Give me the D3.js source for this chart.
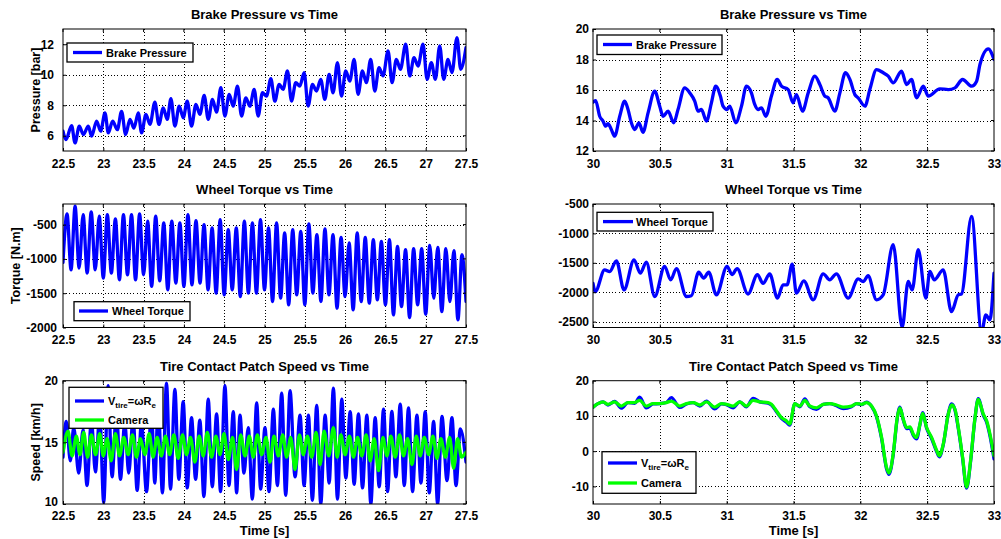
<!DOCTYPE html>
<html>
<head>
<meta charset="utf-8">
<script src="https://cdn.jsdelivr.net/npm/d3@7"></script>
<style>
  body { margin: 0; background: #fff; }
  svg text { font-family: "Liberation Sans", Arial, Helvetica, sans-serif; font-weight: bold; fill: #000; }
</style>
</head>
<body>
<svg id="fig" width="1001" height="539"></svg>
<script>
// ---- Measured signals: [time (s), value] ----
const brakeEarly = [[22.500,6.30],[22.537,5.75],[22.607,6.67],[22.649,5.53],[22.702,6.63],[22.752,6.08],[22.814,6.63],[22.855,5.97],[22.917,6.96],[22.967,6.30],[23.021,7.50],[23.062,6.19],[23.116,6.96],[23.174,6.40],[23.227,7.60],[23.277,6.08],[23.331,7.07],[23.380,6.50],[23.434,7.50],[23.475,6.19],[23.529,7.40],[23.579,6.74],[23.640,8.20],[23.690,6.74],[23.744,7.83],[23.793,7.07],[23.839,8.43],[23.888,6.63],[23.942,7.94],[23.992,7.18],[24.041,8.27],[24.095,6.63],[24.149,8.05],[24.198,7.40],[24.252,8.64],[24.302,7.07],[24.355,8.38],[24.405,7.55],[24.459,9.15],[24.508,7.29],[24.562,8.71],[24.612,7.94],[24.665,9.26],[24.715,7.29],[24.769,8.49],[24.818,7.94],[24.872,9.04],[24.921,7.29],[24.975,8.82],[25.025,8.60],[25.079,9.74],[25.128,8.27],[25.182,9.37],[25.231,9.04],[25.285,10.25],[25.335,8.27],[25.388,9.48],[25.438,9.26],[25.492,10.14],[25.541,7.94],[25.595,9.37],[25.645,8.93],[25.698,9.70],[25.748,8.38],[25.802,10.03],[25.851,8.82],[25.905,10.80],[25.955,8.60],[26.008,10.25],[26.058,9.59],[26.112,11.01],[26.161,8.71],[26.215,10.25],[26.264,9.48],[26.318,11.01],[26.368,8.93],[26.421,10.46],[26.471,9.92],[26.533,11.56],[26.583,9.48],[26.636,11.01],[26.686,10.36],[26.752,12.00],[26.802,9.92],[26.855,11.12],[26.905,10.57],[26.967,12.00],[27.017,9.70],[27.070,10.80],[27.120,9.70],[27.174,11.90],[27.223,9.70],[27.277,11.01],[27.326,10.14],[27.388,12.44],[27.434,10.36],[27.500,11.78]];

const torqueEarly = [[22.50,-1050],[22.55,-344],[22.60,-1158],[22.65,-232],[22.70,-1134],[22.75,-354],[22.80,-1207],[22.85,-314],[22.90,-1158],[22.95,-378],[23.00,-1280],[23.05,-354],[23.10,-1207],[23.15,-417],[23.20,-1305],[23.25,-354],[23.30,-1232],[23.35,-354],[23.40,-1305],[23.45,-344],[23.50,-1232],[23.55,-451],[23.60,-1402],[23.65,-378],[23.70,-1319],[23.75,-476],[23.80,-1451],[23.85,-451],[23.90,-1353],[23.95,-476],[24.00,-1402],[24.05,-354],[24.10,-1378],[24.15,-441],[24.20,-1353],[24.25,-500],[24.30,-1451],[24.35,-549],[24.40,-1500],[24.45,-427],[24.50,-1524],[24.55,-573],[24.60,-1451],[24.65,-549],[24.70,-1549],[24.75,-451],[24.80,-1500],[24.85,-476],[24.90,-1500],[24.95,-427],[25.00,-1451],[25.05,-549],[25.10,-1622],[25.15,-476],[25.20,-1573],[25.25,-622],[25.30,-1670],[25.35,-573],[25.40,-1524],[25.45,-598],[25.50,-1670],[25.55,-490],[25.60,-1500],[25.65,-646],[25.70,-1622],[25.75,-563],[25.80,-1524],[25.85,-646],[25.90,-1719],[25.95,-685],[26.00,-1549],[26.05,-768],[26.10,-1744],[26.15,-622],[26.20,-1622],[26.25,-685],[26.30,-1646],[26.35,-719],[26.40,-1597],[26.45,-744],[26.50,-1670],[26.55,-719],[26.60,-1817],[26.65,-817],[26.70,-1695],[26.75,-866],[26.80,-1856],[26.85,-851],[26.90,-1670],[26.95,-851],[27.00,-1807],[27.05,-802],[27.10,-1573],[27.15,-832],[27.20,-1768],[27.25,-851],[27.30,-1622],[27.35,-880],[27.40,-1890],[27.45,-939],[27.50,-1620]];

const vtireEarly = [[22.500,13.8],[22.541,16.7],[22.591,13.5],[22.633,16.2],[22.695,12.5],[22.749,16.0],[22.798,11.5],[22.852,16.8],[22.902,12.6],[22.956,17.3],[23.005,10.1],[23.059,19.6],[23.109,12.2],[23.163,17.6],[23.213,12.0],[23.266,16.6],[23.316,12.5],[23.370,17.0],[23.420,11.1],[23.473,16.6],[23.536,11.0],[23.598,17.5],[23.639,11.7],[23.681,18.1],[23.734,10.9],[23.784,19.8],[23.834,11.2],[23.888,19.3],[23.937,12.0],[23.991,18.3],[24.041,11.3],[24.095,17.0],[24.145,12.0],[24.198,16.8],[24.248,10.6],[24.302,18.5],[24.352,11.4],[24.406,17.3],[24.455,11.0],[24.509,19.6],[24.559,11.5],[24.613,17.5],[24.654,10.9],[24.696,17.2],[24.745,12.5],[24.799,16.2],[24.849,10.4],[24.903,18.2],[24.952,11.2],[25.006,16.2],[25.056,11.0],[25.110,17.7],[25.160,11.5],[25.213,19.0],[25.263,10.7],[25.317,19.2],[25.379,12.2],[25.441,17.2],[25.491,11.5],[25.545,17.2],[25.594,10.3],[25.648,18.0],[25.698,10.0],[25.752,17.2],[25.802,11.7],[25.855,19.4],[25.905,10.4],[25.959,18.5],[26.009,12.1],[26.063,17.5],[26.112,11.6],[26.166,17.3],[26.216,11.3],[26.270,17.2],[26.319,10.0],[26.373,17.0],[26.423,11.4],[26.477,17.7],[26.527,11.0],[26.580,17.5],[26.630,12.2],[26.684,18.1],[26.734,11.5],[26.787,17.8],[26.837,11.0],[26.891,17.2],[26.941,11.7],[26.994,17.5],[27.044,10.9],[27.098,16.7],[27.148,10.0],[27.202,17.1],[27.264,11.9],[27.326,17.0],[27.376,11.5],[27.430,16.1],[27.500,13.4]];

const cameraEarly = [[22.500,14.2],[22.562,15.9],[22.612,13.9],[22.666,15.5],[22.710,14.0],[22.757,15.8],[22.805,13.8],[22.852,15.6],[22.904,14.0],[22.956,15.7],[23.000,13.9],[23.047,15.3],[23.098,13.5],[23.150,15.7],[23.202,13.9],[23.254,15.4],[23.308,14.0],[23.362,15.6],[23.412,13.8],[23.461,15.3],[23.515,14.0],[23.569,15.7],[23.618,13.8],[23.668,15.4],[23.720,13.9],[23.772,15.5],[23.823,14.0],[23.875,15.6],[23.929,13.7],[23.983,15.6],[24.032,14.0],[24.082,15.4],[24.136,13.4],[24.190,15.5],[24.240,13.9],[24.290,15.8],[24.343,13.8],[24.397,15.5],[24.447,14.0],[24.497,15.7],[24.550,13.6],[24.604,15.4],[24.654,12.8],[24.704,15.6],[24.758,13.9],[24.812,15.5],[24.861,13.8],[24.911,15.6],[24.965,14.0],[25.019,15.4],[25.068,13.4],[25.118,15.5],[25.172,13.9],[25.226,15.6],[25.275,13.8],[25.325,15.4],[25.379,12.8],[25.433,15.6],[25.482,14.0],[25.532,15.5],[25.586,13.8],[25.640,15.8],[25.690,13.2],[25.739,15.9],[25.797,13.9],[25.855,16.2],[25.901,13.8],[25.947,15.6],[26.000,14.0],[26.054,15.5],[26.104,13.8],[26.154,15.4],[26.207,13.9],[26.261,15.6],[26.311,13.5],[26.361,15.3],[26.415,12.7],[26.469,15.4],[26.518,13.9],[26.568,15.5],[26.622,13.8],[26.676,15.6],[26.725,13.9],[26.775,15.3],[26.829,13.2],[26.883,15.5],[26.932,13.9],[26.982,15.4],[27.036,14.0],[27.090,15.5],[27.140,13.7],[27.189,15.3],[27.243,13.8],[27.297,15.4],[27.346,12.9],[27.396,15.3],[27.444,13.8],[27.500,14.2]];

const brakeLate = [[30.000,15.20],[30.020,15.30],[30.050,14.28],[30.075,13.96],[30.095,13.63],[30.112,13.80],[30.137,13.41],[30.162,12.97],[30.200,14.28],[30.237,15.27],[30.262,14.72],[30.287,13.85],[30.312,13.41],[30.344,13.85],[30.374,13.23],[30.412,14.50],[30.462,15.92],[30.499,14.94],[30.524,14.28],[30.562,14.61],[30.604,13.85],[30.636,14.72],[30.686,16.14],[30.724,15.81],[30.761,15.27],[30.786,14.61],[30.811,14.72],[30.849,13.96],[30.886,15.16],[30.918,16.25],[30.953,15.60],[30.973,14.94],[31.003,14.72],[31.023,14.94],[31.068,13.85],[31.111,14.94],[31.148,16.25],[31.185,15.81],[31.210,15.05],[31.235,14.72],[31.260,14.83],[31.293,14.28],[31.335,15.60],[31.378,16.69],[31.410,16.25],[31.460,16.03],[31.497,15.16],[31.522,15.70],[31.567,14.61],[31.610,15.81],[31.660,16.91],[31.697,16.36],[31.734,15.60],[31.759,15.49],[31.809,14.61],[31.847,15.81],[31.889,17.13],[31.922,16.69],[31.959,15.70],[31.984,15.49],[32.034,14.94],[32.071,16.03],[32.121,17.34],[32.171,17.13],[32.209,16.91],[32.246,16.47],[32.308,17.23],[32.346,16.36],[32.383,16.69],[32.421,15.49],[32.471,16.25],[32.508,15.60],[32.595,16.08],[32.658,16.03],[32.708,16.14],[32.765,16.69],[32.833,16.25],[32.870,16.58],[32.895,17.67],[32.957,18.70],[33.000,18.00]];

const torqueLate = [[30.000,-1850],[30.017,-1990],[30.087,-1620],[30.125,-1650],[30.175,-1466],[30.232,-1960],[30.307,-1450],[30.354,-1676],[30.399,-1488],[30.462,-2073],[30.536,-1560],[30.581,-1790],[30.624,-1600],[30.699,-2073],[30.736,-2060],[30.791,-1660],[30.828,-1760],[30.866,-1660],[30.923,-2045],[31.003,-1560],[31.040,-1700],[31.078,-1600],[31.160,-2030],[31.230,-1700],[31.272,-1850],[31.322,-1690],[31.380,-2100],[31.422,-1875],[31.452,-1875],[31.490,-1522],[31.522,-2017],[31.577,-1806],[31.647,-2130],[31.722,-1687],[31.771,-1790],[31.821,-1687],[31.909,-2100],[31.984,-1772],[32.021,-1820],[32.058,-1720],[32.121,-2130],[32.171,-2045],[32.246,-1193],[32.313,-2600],[32.358,-1818],[32.388,-1960],[32.433,-1278],[32.490,-2100],[32.520,-1647],[32.553,-1790],[32.620,-1620],[32.682,-2330],[32.732,-2045],[32.757,-2030],[32.832,-710],[32.907,-2680],[32.939,-2385],[32.969,-2470],[33.000,-1676]];

const vtireLate = [[30.000,12.5],[30.037,13.5],[30.075,14.0],[30.112,13.1],[30.162,14.1],[30.212,12.2],[30.262,13.8],[30.312,13.6],[30.349,15.3],[30.399,12.3],[30.449,13.4],[30.499,13.5],[30.549,13.8],[30.586,15.2],[30.649,12.4],[30.699,13.4],[30.749,13.8],[30.799,12.8],[30.849,14.2],[30.911,12.0],[30.961,13.4],[30.998,13.2],[31.048,12.3],[31.098,14.0],[31.148,12.6],[31.198,15.0],[31.248,14.0],[31.310,13.6],[31.335,13.1],[31.373,11.2],[31.410,9.3],[31.447,8.2],[31.472,7.4],[31.510,13.5],[31.547,12.6],[31.585,14.8],[31.622,12.6],[31.672,11.9],[31.722,13.3],[31.772,13.5],[31.822,12.9],[31.872,12.1],[31.934,12.6],[31.972,13.5],[32.009,13.2],[32.046,13.9],[32.084,12.7],[32.121,9.8],[32.159,3.6],[32.196,-5.0],[32.214,-6.6],[32.246,-1.0],[32.276,9.3],[32.296,12.5],[32.321,8.9],[32.346,6.4],[32.371,6.5],[32.396,4.5],[32.421,3.5],[32.446,7.5],[32.466,10.9],[32.496,6.5],[32.533,3.6],[32.571,-0.1],[32.591,-1.6],[32.621,1.9],[32.658,10.6],[32.683,13.4],[32.708,11.7],[32.733,6.4],[32.765,-2.0],[32.795,-10.5],[32.825,-2.9],[32.858,9.4],[32.882,14.9],[32.920,10.2],[32.945,8.2],[32.970,4.3],[33.000,-2.2]];

const cameraLate = [[30.000,12.5],[30.037,13.5],[30.075,14.0],[30.112,13.3],[30.162,14.0],[30.212,12.8],[30.262,13.8],[30.312,13.8],[30.349,14.4],[30.399,12.8],[30.449,13.5],[30.499,13.5],[30.549,13.8],[30.586,14.2],[30.649,12.8],[30.699,13.5],[30.749,13.8],[30.799,13.1],[30.849,14.0],[30.911,12.5],[30.961,13.5],[30.998,13.3],[31.048,12.8],[31.098,14.0],[31.148,12.8],[31.198,14.4],[31.248,14.0],[31.310,13.8],[31.335,13.3],[31.373,11.4],[31.410,9.5],[31.447,8.6],[31.472,7.7],[31.510,13.5],[31.547,12.8],[31.585,14.4],[31.622,12.8],[31.672,12.3],[31.722,13.3],[31.772,13.5],[31.822,13.1],[31.872,12.5],[31.934,12.8],[31.972,13.5],[32.009,13.3],[32.046,13.8],[32.084,12.8],[32.121,10.0],[32.159,3.9],[32.196,-4.6],[32.214,-6.2],[32.246,-0.75],[32.276,9.5],[32.296,12.3],[32.321,9.1],[32.346,6.7],[32.371,6.9],[32.396,4.8],[32.421,3.9],[32.446,7.7],[32.466,10.7],[32.496,6.7],[32.533,3.9],[32.571,0.2],[32.591,-1.3],[32.621,2.1],[32.658,10.5],[32.683,13.1],[32.708,11.9],[32.733,6.7],[32.765,-1.7],[32.795,-10.2],[32.825,-2.6],[32.858,9.5],[32.882,14.7],[32.920,10.5],[32.945,8.6],[32.970,4.8],[33.000,-1.3]];

// ---- Tick values ----
const timeTicksEarly = [22.5, 23, 23.5, 24, 24.5, 25, 25.5, 26, 26.5, 27, 27.5];
const timeTicksLate = [30, 30.5, 31, 31.5, 32, 32.5, 33];
const pressureTicksEarly = [6, 8, 10, 12];
const pressureTicksLate = [12, 14, 16, 18, 20];
const torqueTicksEarly = [-2000, -1500, -1000, -500];
const torqueTicksLate = [-2500, -2000, -1500, -1000, -500];
const speedTicksEarly = [10, 15, 20];
const speedTicksLate = [-10, 0, 10, 20];

// ---- Styling ----
const BLUE = "#0000ff";
const GREEN = "#00ff00";
const LINE_W = 3.3;

const COL = { left: [63, 466], right: [593, 994] };
const ROW = [[29, 151], [204, 327.5], [380.7, 504]];

const vtireLabel = { parts: ["V", {sub: "tire"}, "=\u03c9R", {sub: "e"}] };

const panels = [
  { col: "left", row: 0, title: "Brake Pressure vs Time", xd: [22.5, 27.5], xt: timeTicksEarly,
    yd: [5, 13], yt: pressureTicksEarly, ylabel: "Pressure [bar]", ylabelX: 39.5, yPad: 9, xPad: 8,
    series: [{ data: brakeEarly, color: BLUE }],
    legend: { box: [67, 43, 126, 19], line: [73, 102], textX: 106,
              items: [{ y: 52.5, color: BLUE, label: "Brake Pressure" }] } },
  { col: "right", row: 0, title: "Brake Pressure vs Time", xd: [30, 33], xt: timeTicksLate,
    yd: [12, 20], yt: pressureTicksLate, yPad: 4, xPad: 8,
    series: [{ data: brakeLate, color: BLUE }],
    legend: { box: [597, 35, 125, 19.5], line: [603, 632], textX: 636,
              items: [{ y: 44.5, color: BLUE, label: "Brake Pressure" }] } },
  { col: "left", row: 1, title: "Wheel Torque vs Time", xd: [22.5, 27.5], xt: timeTicksEarly,
    yd: [-2000, -200], yt: torqueTicksEarly, ylabel: "Torque [N.m]", ylabelX: 19.5, yPad: 6, xPad: 8,
    series: [{ data: torqueEarly, color: BLUE }],
    legend: { box: [74, 301.7, 116, 19], line: [79, 108], textX: 112,
              items: [{ y: 311, color: BLUE, label: "Wheel Torque" }] } },
  { col: "right", row: 1, title: "Wheel Torque vs Time", xd: [30, 33], xt: timeTicksLate,
    yd: [-2600, -500], yt: torqueTicksLate, yPad: 4, xPad: 8,
    series: [{ data: torqueLate, color: BLUE }],
    legend: { box: [597, 212.3, 116, 18.7], line: [603, 633], textX: 636,
              items: [{ y: 221.6, color: BLUE, label: "Wheel Torque" }] } },
  { col: "left", row: 2, title: "Tire Contact Patch Speed vs Time", xd: [22.5, 27.5], xt: timeTicksEarly,
    yd: [10, 20], yt: speedTicksEarly, ylabel: "Speed [km/h]", ylabelX: 39.5, yPad: 5, xPad: 7, xlabel: "Time [s]",
    lowLabelLift: 2.5,
    series: [{ data: vtireEarly, color: BLUE }, { data: cameraEarly, color: GREEN }],
    legend: { box: [69, 387.3, 94, 41], line: [75, 104], textX: 108,
              items: [{ y: 401, color: BLUE, label: vtireLabel }, { y: 420, color: GREEN, label: "Camera" }] } },
  { col: "right", row: 2, title: "Tire Contact Patch Speed vs Time", xd: [30, 33], xt: timeTicksLate,
    yd: [-15, 20], yt: speedTicksLate, yPad: 4, xPad: 7, xlabel: "Time [s]",
    series: [{ data: vtireLate, color: BLUE }, { data: cameraLate, color: GREEN }],
    legend: { box: [602, 451.7, 94, 41.6], line: [608, 637], textX: 641,
              items: [{ y: 463, color: BLUE, label: vtireLabel }, { y: 483, color: GREEN, label: "Camera" }] } }
];

const svg = d3.select("#fig");
svg.append("rect").attr("width", 1001).attr("height", 539).attr("fill", "#fff");

function writeLabel(textSel, label) {
  if (typeof label === "string") { textSel.text(label); return; }
  let shifted = false;
  label.parts.forEach(p => {
    if (typeof p === "string") {
      textSel.append("tspan").attr("dy", shifted ? -3 : 0).text(p);
      shifted = false;
    } else {
      textSel.append("tspan").attr("dy", shifted ? 0 : 3).attr("font-size", 8).text(p.sub);
      shifted = true;
    }
  });
}

panels.forEach((p, i) => {
  const [x0, x1] = COL[p.col];
  const [y0, y1] = ROW[p.row];
  const x = d3.scaleLinear().domain(p.xd).range([x0, x1]);
  const y = d3.scaleLinear().domain(p.yd).range([y1, y0]);
  const g = svg.append("g");

  // dotted grid
  const grid = g.append("g").attr("stroke", "#000").attr("stroke-width", 1)
    .attr("stroke-dasharray", "1,2.2").attr("shape-rendering", "crispEdges");
  grid.selectAll("line.gx").data(p.xt.filter(v => v > p.xd[0] && v < p.xd[1])).join("line")
    .attr("x1", d => Math.round(x(d)) + 0.5).attr("x2", d => Math.round(x(d)) + 0.5)
    .attr("y1", y0).attr("y2", y1);
  grid.selectAll("line.gy").data(p.yt.filter(v => v > p.yd[0] && v < p.yd[1])).join("line")
    .attr("y1", d => Math.round(y(d)) + 0.5).attr("y2", d => Math.round(y(d)) + 0.5)
    .attr("x1", x0).attr("x2", x1);

  // data lines, clipped to the axes box
  const clipId = "clip" + i;
  svg.append("clipPath").attr("id", clipId).append("rect")
    .attr("x", x0).attr("y", y0).attr("width", x1 - x0).attr("height", y1 - y0);
  const line = d3.line().x(d => x(d[0])).y(d => y(d[1])).curve(d3.curveMonotoneX);
  const lines = g.append("g").attr("clip-path", `url(#${clipId})`);
  p.series.forEach(s => {
    lines.append("path").datum(s.data).attr("d", line)
      .attr("fill", "none").attr("stroke", s.color).attr("stroke-width", LINE_W)
      .attr("stroke-linejoin", "round").attr("stroke-linecap", "round");
  });

  // axes with inward ticks
  const xAxis = d3.axisBottom(x).tickValues(p.xt).tickFormat(d => String(d))
    .tickSizeInner(-3).tickSizeOuter(0).tickPadding(p.xPad);
  const yAxis = d3.axisLeft(y).tickValues(p.yt).tickFormat(d => String(d))
    .tickSizeInner(-3).tickSizeOuter(0).tickPadding(p.yPad);
  const gx = g.append("g").attr("transform", `translate(0,${y1})`).call(xAxis);
  const gy = g.append("g").attr("transform", `translate(${x0},0)`).call(yAxis);
  [gx, gy].forEach(a => {
    a.select(".domain").remove();
    a.selectAll("text").attr("font-size", 12).attr("fill", "#000")
      .style("font-family", '"Liberation Sans", Arial, sans-serif').style("font-weight", "bold");
    a.selectAll("line").attr("stroke", "#000");
  });
  // keep the lowest y label clear of the first time label at the corner
  if (p.lowLabelLift) {
    gy.selectAll(".tick text").filter(d => d === p.yd[0]).attr("y", -p.lowLabelLift);
  }
  // mirrored ticks on top and right
  g.append("g").selectAll("line").data(p.xt).join("line")
    .attr("x1", d => x(d)).attr("x2", d => x(d)).attr("y1", y0).attr("y2", y0 + 3).attr("stroke", "#000");
  g.append("g").selectAll("line").data(p.yt).join("line")
    .attr("y1", d => y(d)).attr("y2", d => y(d)).attr("x1", x1).attr("x2", x1 - 3).attr("stroke", "#000");

  // frame
  g.append("rect").attr("x", x0).attr("y", y0).attr("width", x1 - x0).attr("height", y1 - y0)
    .attr("fill", "none").attr("stroke", "#000").attr("stroke-width", 1);

  // title and axis labels
  g.append("text").attr("x", (x0 + x1) / 2).attr("y", y0 - 10).attr("text-anchor", "middle")
    .attr("font-size", 13).text(p.title);
  if (p.ylabel) {
    g.append("text").attr("transform", `translate(${p.ylabelX},${(y0 + y1) / 2}) rotate(-90)`)
      .attr("text-anchor", "middle").attr("font-size", 12.5).text(p.ylabel);
  }
  if (p.xlabel) {
    g.append("text").attr("x", (x0 + x1) / 2).attr("y", 535).attr("text-anchor", "middle")
      .attr("font-size", 13).text(p.xlabel);
  }

  // legend
  const L = p.legend;
  const lg = g.append("g");
  lg.append("rect").attr("x", L.box[0]).attr("y", L.box[1]).attr("width", L.box[2]).attr("height", L.box[3])
    .attr("fill", "#fff").attr("stroke", "#000").attr("stroke-width", 1.3);
  L.items.forEach(it => {
    lg.append("line").attr("x1", L.line[0]).attr("x2", L.line[1]).attr("y1", it.y).attr("y2", it.y)
      .attr("stroke", it.color).attr("stroke-width", LINE_W);
    const t = lg.append("text").attr("x", L.textX).attr("y", it.y + 4).attr("font-size", 11);
    writeLabel(t, it.label);
  });
});
</script>
</body>
</html>
